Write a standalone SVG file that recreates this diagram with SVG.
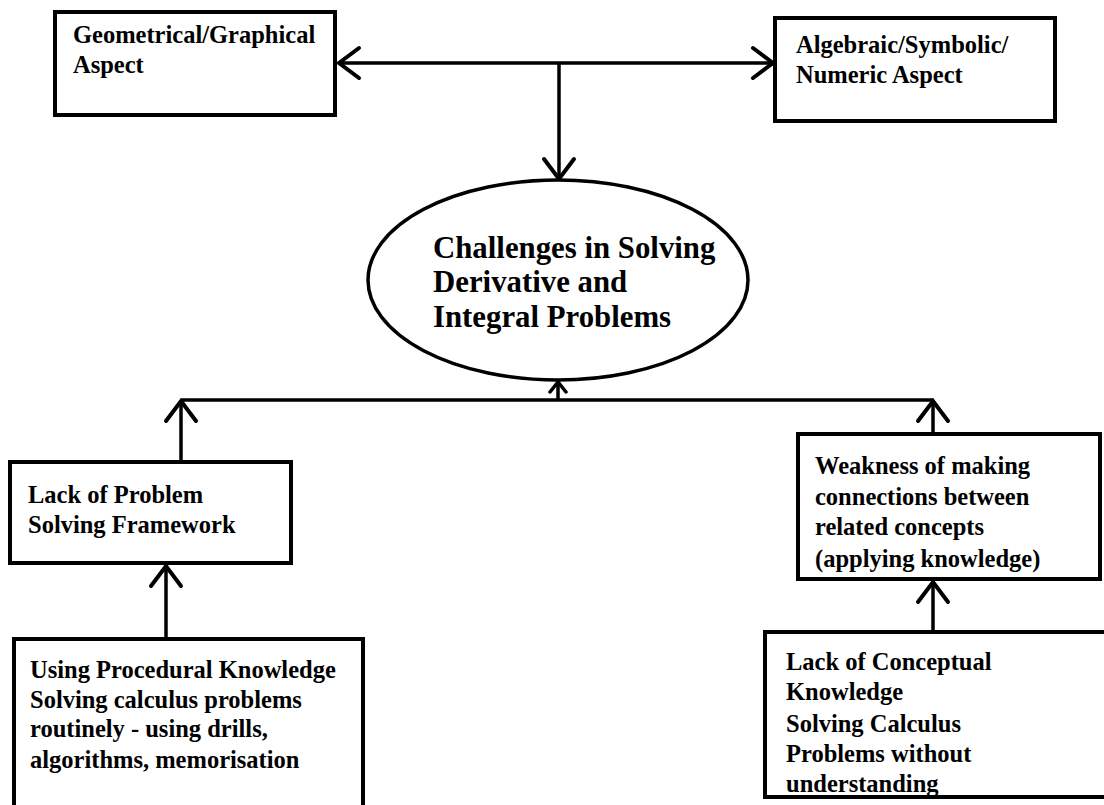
<svg xmlns="http://www.w3.org/2000/svg" width="1104" height="805" viewBox="0 0 1104 805">
<style>
.box{fill:#fff;stroke:#000;stroke-width:4}
.t{font-family:"Liberation Serif","Times New Roman",serif;font-weight:bold;font-size:24.5px;fill:#000}
.tc{font-family:"Liberation Serif","Times New Roman",serif;font-weight:bold;font-size:30.8px;fill:#000}
.c{fill:none;stroke:#000;stroke-width:3.5}
</style>
<defs>
<marker id="ah" markerUnits="userSpaceOnUse" viewBox="-24 -18 28 36" refX="0" refY="0" markerWidth="28" markerHeight="36" orient="auto-start-reverse">
<path d="M -20 -15 L 0 0 L -20 15" fill="none" stroke="#000" stroke-width="4" stroke-linecap="round"/>
</marker>
<marker id="ahs" markerUnits="userSpaceOnUse" viewBox="-14 -10 16 20" refX="0" refY="0" markerWidth="16" markerHeight="20" orient="auto">
<path d="M -10 -8 L 0 0 L -10 8" fill="none" stroke="#000" stroke-width="3.5" stroke-linecap="round"/>
</marker>
</defs>
<rect width="1104" height="805" fill="#fff"/>
<g id="connectors">
<line class="c" x1="339" y1="63" x2="773" y2="63" marker-start="url(#ah)" marker-end="url(#ah)"/>
<line class="c" x1="559" y1="63" x2="559" y2="179" marker-end="url(#ah)"/>
<polyline class="c" points="181,400 933,400"/>
<line class="c" x1="181" y1="460" x2="181" y2="401" marker-end="url(#ah)"/>
<line class="c" x1="558" y1="400" x2="558" y2="382" marker-end="url(#ahs)"/>
<line class="c" x1="933" y1="432" x2="933" y2="401" marker-end="url(#ah)"/>
<line class="c" x1="166" y1="637" x2="166" y2="566" marker-end="url(#ah)"/>
<line class="c" x1="933" y1="630" x2="933" y2="582" marker-end="url(#ah)"/>
</g>
<g id="n-geometrical">
<rect class="box" x="55" y="12" width="280" height="103"/>
<text class="t" x="73" y="43">Geometrical/Graphical</text>
<text class="t" x="73" y="73">Aspect</text>
</g>
<g id="n-algebraic">
<rect class="box" x="775" y="18" width="280" height="103"/>
<text class="t" x="796" y="53">Algebraic/Symbolic/</text>
<text class="t" x="796" y="83">Numeric Aspect</text>
</g>
<g id="n-challenges">
<ellipse cx="558" cy="280" rx="190" ry="100" fill="#fff" stroke="#000" stroke-width="3.5"/>
<text class="tc" x="433" y="258">Challenges in Solving</text>
<text class="tc" x="433" y="292">Derivative and</text>
<text class="tc" x="433" y="327">Integral Problems</text>
</g>
<g id="n-framework">
<rect class="box" x="10" y="462" width="281" height="101"/>
<text class="t" x="28" y="503">Lack of Problem</text>
<text class="t" x="28" y="533">Solving Framework</text>
</g>
<g id="n-weakness">
<rect class="box" x="798" y="434" width="302" height="145"/>
<text class="t" x="815" y="474">Weakness of making</text>
<text class="t" x="815" y="505">connections between</text>
<text class="t" x="815" y="535">related concepts</text>
<text class="t" x="815" y="567">(applying knowledge)</text>
</g>
<g id="n-procedural">
<rect class="box" x="14" y="639" width="349" height="200"/>
<text class="t" x="30" y="678">Using Procedural Knowledge</text>
<text class="t" x="30" y="708">Solving calculus problems</text>
<text class="t" x="30" y="737">routinely - using drills,</text>
<text class="t" x="30" y="768">algorithms, memorisation</text>
</g>
<g id="n-conceptual">
<rect class="box" x="765" y="632" width="360" height="165"/>
<text class="t" x="786" y="670">Lack of Conceptual</text>
<text class="t" x="786" y="700">Knowledge</text>
<text class="t" x="786" y="732">Solving Calculus</text>
<text class="t" x="786" y="762">Problems without</text>
<text class="t" x="786" y="792">understanding</text>
</g>
</svg>
